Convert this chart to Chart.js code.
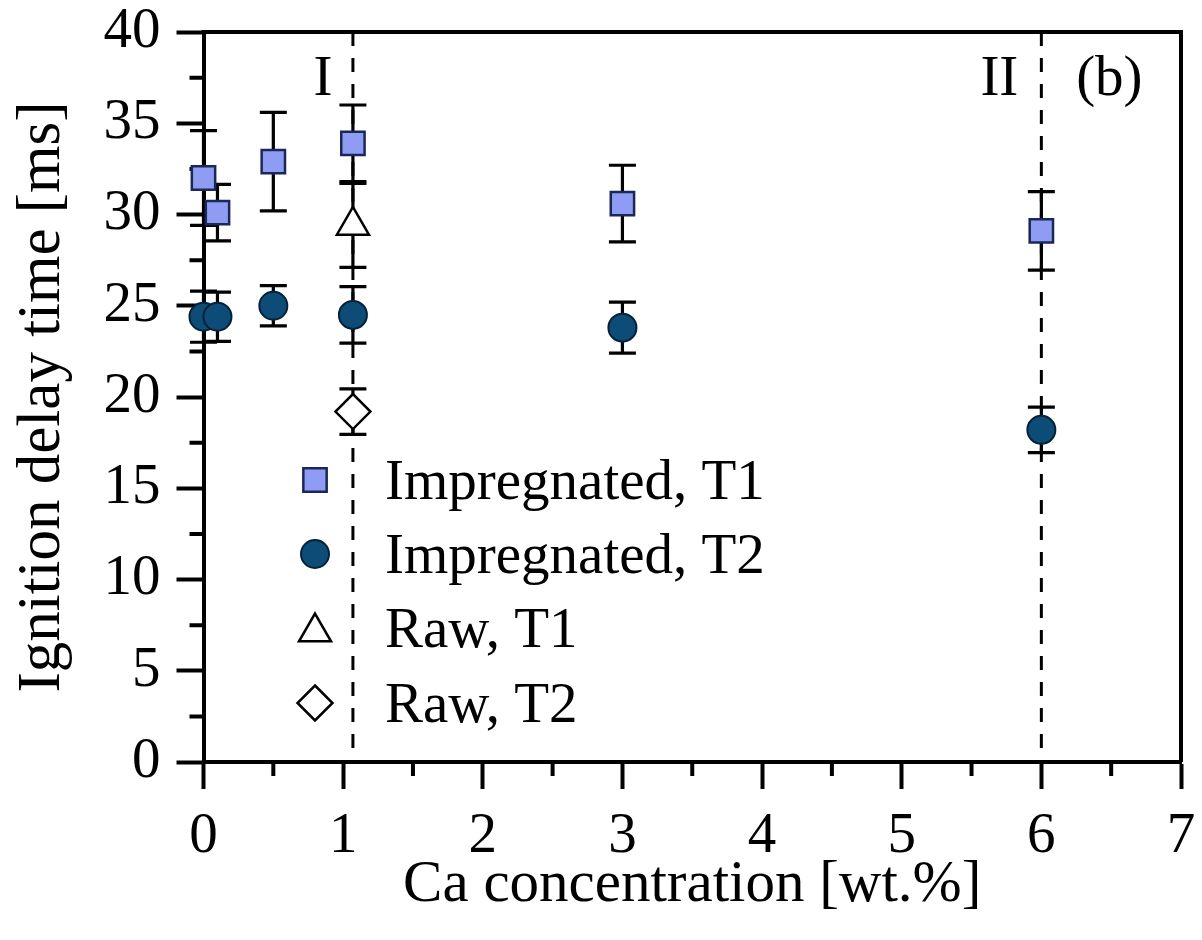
<!DOCTYPE html>
<html>
<head>
<meta charset="utf-8">
<script src="https://cdn.jsdelivr.net/npm/chart.js@4.4.1/dist/chart.umd.min.js"></script>
<style>
  html, body { margin: 0; padding: 0; background: #fff; }
  #wrap { width: 1202px; height: 940px; }
</style>
</head>
<body>
<div id="wrap"><canvas id="chart" width="1202" height="940"></canvas></div>
<script>
// Data
const caImp = [0, 0.1, 0.5, 1.07, 3, 6];
const impT1 = [32.0, 30.1, 32.9, 33.9, 30.6, 29.1];
const impT1Err = [2.6, 1.55, 2.7, 2.1, 2.1, 2.15];
const impT2 = [24.4, 24.4, 25.0, 24.5, 23.8, 18.2];
const impT2Err = [1.4, 1.35, 1.1, 1.55, 1.4, 1.25];
const caRaw = [1.07];
const rawT1 = [29.4];
const rawT1Err = [2.3];
const rawT2 = [19.2];
const rawT2Err = [1.25];
const regionX = [1.07, 6];
const regionLabels = ['I', 'II'];
const xTicks = [0, 1, 2, 3, 4, 5, 6, 7];
const yTicks = [0, 5, 10, 15, 20, 25, 30, 35, 40];

const FONT = "'Liberation Serif', 'Times New Roman', serif";
Chart.defaults.font.family = FONT;
Chart.defaults.color = '#000';

const toPoints = (xs, ys) => xs.map((x, i) => ({ x: x, y: ys[i] }));

const datasets = [
    { label: 'Impregnated, T1', data: toPoints(caImp, impT1), err: impT1Err,
      pointStyle: 'rect', pointRadius: 16.5, backgroundColor: '#8f9cf4', borderColor: '#1b2757', borderWidth: 2.5 },
    { label: 'Impregnated, T2', data: toPoints(caImp, impT2), err: impT2Err,
      pointStyle: 'circle', pointRadius: 14, backgroundColor: '#0d4c77', borderColor: '#06223a', borderWidth: 2 },
    { label: 'Raw, T1', data: toPoints(caRaw, rawT1), err: rawT1Err,
      pointStyle: 'triangle', pointRadius: 18.5, backgroundColor: '#fff', borderColor: '#000', borderWidth: 2.5 },
    { label: 'Raw, T2', data: toPoints(caRaw, rawT2), err: rawT2Err,
      pointStyle: 'rectRot', pointRadius: 17.5, backgroundColor: '#fff', borderColor: '#000', borderWidth: 2.5 }
];

// Minor ticks, frame, region lines, error bars
const decorations = {
    id: 'decorations',
    beforeDatasetsDraw(chart) {
        const { ctx, chartArea: a, scales: { x, y } } = chart;
        ctx.save();
        ctx.strokeStyle = '#000';
        // minor ticks
        ctx.lineWidth = 4;
        ctx.beginPath();
        for (let i = 0; i < xTicks.length - 1; i++) {
            const px = x.getPixelForValue((xTicks[i] + xTicks[i + 1]) / 2);
            ctx.moveTo(px, a.bottom);
            ctx.lineTo(px, a.bottom + 14);
        }
        for (let i = 0; i < yTicks.length - 1; i++) {
            const py = y.getPixelForValue((yTicks[i] + yTicks[i + 1]) / 2);
            ctx.moveTo(a.left, py);
            ctx.lineTo(a.left - 14, py);
        }
        ctx.stroke();
        // top and right frame
        ctx.beginPath();
        ctx.moveTo(a.left - 2, a.top);
        ctx.lineTo(a.right, a.top);
        ctx.lineTo(a.right, a.bottom);
        ctx.stroke();
        // region lines
        ctx.lineWidth = 3;
        ctx.setLineDash([14, 12]);
        ctx.beginPath();
        regionX.forEach(v => {
            const px = x.getPixelForValue(v);
            ctx.moveTo(px, a.top);
            ctx.lineTo(px, a.bottom);
        });
        ctx.stroke();
        ctx.setLineDash([]);
        // region labels
        ctx.fillStyle = '#000';
        ctx.font = '57px ' + FONT;
        ctx.textBaseline = 'alphabetic';
        ctx.textAlign = 'center';
        ctx.fillText(regionLabels[0], x.getPixelForValue(regionX[0]) - 30, 95);
        ctx.fillText(regionLabels[1], x.getPixelForValue(regionX[1]) - 42, 95);
        ctx.fillText('(b)', x.getPixelForValue(regionX[1]) + 68, 95);
        // error bars
        ctx.lineWidth = 3.2;
        chart.data.datasets.forEach(ds => {
            ds.data.forEach((p, i) => {
                const px = x.getPixelForValue(p.x);
                const top = y.getPixelForValue(p.y + ds.err[i]);
                const bot = y.getPixelForValue(p.y - ds.err[i]);
                ctx.beginPath();
                ctx.moveTo(px, top);
                ctx.lineTo(px, bot);
                ctx.moveTo(px - 13.5, top);
                ctx.lineTo(px + 13.5, top);
                ctx.moveTo(px - 13.5, bot);
                ctx.lineTo(px + 13.5, bot);
                ctx.stroke();
            });
        });
        ctx.restore();
    }
};

function drawMarker(ctx, ds, cx, cy) {
    const r = ds.pointRadius;
    ctx.beginPath();
    if (ds.pointStyle === 'rect') {
        const s = r * Math.SQRT1_2;
        ctx.rect(cx - s, cy - s, 2 * s, 2 * s);
    } else if (ds.pointStyle === 'circle') {
        ctx.arc(cx, cy, r, 0, Math.PI * 2);
    } else if (ds.pointStyle === 'triangle') {
        for (let k = 0; k < 3; k++) {
            const ang = k * 2 * Math.PI / 3;
            const fx = cx + Math.sin(ang) * r, fy = cy - Math.cos(ang) * r;
            k ? ctx.lineTo(fx, fy) : ctx.moveTo(fx, fy);
        }
        ctx.closePath();
    } else {
        ctx.moveTo(cx, cy - r); ctx.lineTo(cx + r, cy);
        ctx.lineTo(cx, cy + r); ctx.lineTo(cx - r, cy);
        ctx.closePath();
    }
    ctx.fillStyle = ds.backgroundColor;
    ctx.strokeStyle = ds.borderColor;
    ctx.lineWidth = ds.borderWidth;
    ctx.fill();
    ctx.stroke();
}

// Legend inside the plot
const innerLegend = {
    id: 'innerLegend',
    afterDatasetsDraw(chart) {
        const { ctx } = chart;
        const rows = [480, 554, 628, 703];
        ctx.save();
        ctx.font = '57px ' + FONT;
        ctx.textAlign = 'left';
        ctx.textBaseline = 'alphabetic';
        chart.data.datasets.forEach((ds, i) => {
            const cy = rows[i] + (ds.pointStyle === 'triangle' ? 4 : 0);
            drawMarker(ctx, ds, 315, cy);
            ctx.fillStyle = '#000';
            ctx.fillText(ds.label, 385, rows[i] + 19);
        });
        ctx.restore();
    }
};

new Chart(document.getElementById('chart'), {
    type: 'scatter',
    data: { datasets: datasets.map(d => Object.assign({ clip: false, pointHoverRadius: d.pointRadius }, d)) },
    options: {
        responsive: false,
        animation: false,
        events: [],
        layout: { padding: { left: 0, top: 32, right: 17, bottom: 0 } },
        plugins: { legend: { display: false }, tooltip: { enabled: false } },
        scales: {
            x: {
                type: 'linear', min: 0, max: 7,
                afterFit: s => { s.height = 178; s.paddingLeft = 0; s.paddingRight = 0; },
                afterBuildTicks: s => { s.ticks = xTicks.map(v => ({ value: v })); },
                ticks: { font: { size: 57 }, color: '#000', padding: 14, maxRotation: 0 },
                grid: { drawOnChartArea: false, tickLength: 27, tickWidth: 4, color: '#000' },
                border: { display: true, width: 4, color: '#000' },
                title: { display: true, text: 'Ca concentration [wt.%]', font: { size: 59, lineHeight: 1.2 }, color: '#000', padding: { top: 0, bottom: 19 } }
            },
            y: {
                type: 'linear', min: 0, max: 40,
                afterFit: s => { s.width = 203.5; s.paddingTop = 0; s.paddingBottom = 0; },
                afterBuildTicks: s => { s.ticks = yTicks.map(v => ({ value: v })); },
                ticks: { font: { size: 57 }, color: '#000', padding: 16 },
                grid: { drawOnChartArea: false, tickLength: 27, tickWidth: 4, color: '#000' },
                border: { display: true, width: 4, color: '#000' },
                title: { display: true, text: 'Ignition delay time [ms]', font: { size: 61, lineHeight: 1.2 }, color: '#000', padding: { top: 6, bottom: 0 } }
            }
        }
    },
    plugins: [decorations, innerLegend]
});
</script>
</body>
</html>
